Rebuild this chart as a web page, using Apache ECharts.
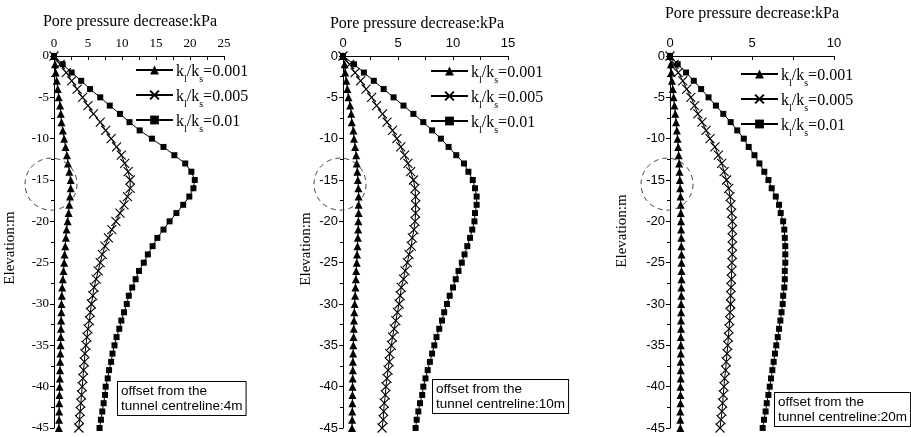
<!DOCTYPE html>
<html><head><meta charset="utf-8">
<script src="https://cdn.jsdelivr.net/npm/echarts@6/dist/echarts.min.js"></script>
<style>html,body{margin:0;padding:0;background:#fff}#c{width:911px;height:437px}</style>
</head><body><div id="c"></div>
<script>
// Elevation (m) of each computed point
var elevation = [0,-1,-2,-3,-4,-5,-6,-7,-8,-9,-10,-11,-12,-13,-14,-15,-16,-17,-18,-19,-20,-21,-22,-23,-24,-25,-26,-27,-28,-29,-30,-31,-32,-33,-34,-35,-36,-37,-38,-39,-40,-41,-42,-43,-44,-45];
var ratioNames = ['0.001','0.005','0.01'];
var offsets = ['4m','10m','20m'];
var xMax = [25, 15, 10];
var yTicks = ['0','-5','-10','-15','-20','-25','-30','-35','-40','-45'];

// Pore pressure decrease (kPa), offset 4 m
var p4_001 = [0,0.15,0.25,0.4,0.55,0.7,0.9,1.0,1.1,1.3,1.5,1.7,1.9,2.05,2.25,2.45,2.45,2.35,2.25,2.15,2.0,1.85,1.75,1.65,1.55,1.5,1.4,1.3,1.2,1.15,1.1,1.08,1.05,1.02,1.0,0.97,0.94,0.91,0.88,0.86,0.83,0.8,0.78,0.76,0.74,0.72];
var p4_005 = [0,0.9,1.8,2.6,3.4,4.2,5.0,5.8,6.8,7.6,8.4,9.2,9.9,10.4,10.9,11.2,11.2,10.8,10.3,9.7,9.1,8.5,8.0,7.5,7.1,6.8,6.5,6.2,5.9,5.7,5.5,5.35,5.2,5.0,4.85,4.7,4.55,4.45,4.35,4.25,4.15,4.05,3.95,3.85,3.75,3.65];
var p4_01  = [0,1.27,2.6,4.0,5.3,6.8,8.2,9.7,11.1,12.6,14.4,16.1,17.7,19.3,20.2,20.7,20.5,19.9,19.0,18.0,17.0,16.1,15.2,14.5,13.8,13.2,12.5,12.0,11.5,11.0,10.7,10.3,9.9,9.6,9.2,8.9,8.6,8.4,8.1,7.9,7.6,7.5,7.3,7.1,6.9,6.7];
// offset 10 m
var p10_001 = [0,0.15,0.2,0.3,0.4,0.5,0.65,0.75,0.8,0.95,1.0,1.1,1.2,1.25,1.3,1.35,1.4,1.42,1.42,1.42,1.4,1.38,1.35,1.32,1.28,1.25,1.2,1.17,1.13,1.1,1.06,1.03,1.0,0.98,0.96,0.94,0.92,0.9,0.89,0.88,0.87,0.86,0.85,0.84,0.83,0.82];
var p10_005 = [0,0.6,1.1,1.6,2.1,2.6,3.05,3.6,4.0,4.5,4.9,5.25,5.6,5.9,6.15,6.4,6.55,6.6,6.6,6.6,6.55,6.45,6.3,6.2,6.0,5.85,5.65,5.5,5.3,5.2,5.1,4.95,4.8,4.65,4.5,4.4,4.25,4.2,4.1,4.0,3.9,3.85,3.75,3.7,3.65,3.55];
var p10_01  = [0,1.0,1.9,2.8,3.7,4.6,5.5,6.4,7.3,8.1,8.9,9.6,10.3,11.0,11.4,11.8,12.0,12.15,12.15,12.0,11.95,11.75,11.55,11.3,11.05,10.8,10.5,10.25,10.0,9.7,9.45,9.2,9.0,8.75,8.5,8.3,8.1,7.9,7.7,7.5,7.3,7.2,7.0,6.85,6.7,6.6];
// offset 20 m
var p20_001 = [0,0.05,0.08,0.12,0.17,0.22,0.27,0.32,0.37,0.42,0.46,0.5,0.53,0.56,0.58,0.6,0.62,0.64,0.65,0.66,0.67,0.68,0.69,0.69,0.7,0.7,0.7,0.7,0.69,0.69,0.68,0.68,0.67,0.67,0.66,0.66,0.66,0.65,0.65,0.65,0.64,0.64,0.64,0.63,0.63,0.63];
var p20_005 = [0,0.25,0.5,0.78,1.02,1.27,1.5,1.7,1.95,2.2,2.44,2.74,2.95,3.15,3.3,3.45,3.58,3.66,3.72,3.76,3.8,3.8,3.8,3.8,3.8,3.78,3.76,3.74,3.72,3.7,3.7,3.66,3.64,3.6,3.56,3.52,3.48,3.43,3.39,3.33,3.29,3.25,3.21,3.17,3.11,3.05];
var p20_01  = [0,0.47,0.98,1.45,1.9,2.35,2.8,3.25,3.7,4.1,4.5,4.8,5.15,5.45,5.75,6.0,6.2,6.45,6.65,6.75,6.9,6.97,7.0,7.03,7.03,7.03,7.0,7.0,6.97,6.9,6.87,6.8,6.73,6.65,6.57,6.48,6.4,6.32,6.24,6.16,6.08,6.0,5.9,5.83,5.73,5.65];

var panels = [[p4_001,p4_005,p4_01],[p10_001,p10_005,p10_01],[p20_001,p20_005,p20_01]];

var SERIF = 'Liberation Serif';
var SANS = 'Liberation Sans';
var tickFonts = [SERIF, SANS, SANS];
var grids = [
  {left:54, top:56, width:170, height:372},
  {left:343, top:56, width:165, height:372},
  {left:670, top:56, width:164, height:372}
];
var symbols = ['triangle', 'path://M0,0L10,10M10,0L0,10', 'rect'];
var symbolSizes = [8, 9, 6];

var chart = echarts.init(document.getElementById('c'), null, {renderer:'canvas'});
var xAxes = [], yAxes = [], series = [], legends = [];
var legendPos = [{left:130, top:59}, {left:425, top:60}, {left:735, top:63}];
for (var i = 0; i < 3; i++) {
  var f = tickFonts[i];
  xAxes.push({type:'value', gridIndex:i, position:'top', min:0, max:xMax[i], interval:5,
    axisLine:{show:true, lineStyle:{color:'#000', width:1}},
    axisTick:{show:true, inside:true, length:4, lineStyle:{color:'#000'}},
    minorTick:{show:true, splitNumber:2, length:4, lineStyle:{color:'#000'}},
    splitLine:{show:false},
    axisLabel:{color:'#000', fontFamily:f, fontSize:13, margin:6}
  });
  yAxes.push({type:'value', gridIndex:i, min:-45, max:0, interval:5,
    axisLine:{show:true, onZero:false, lineStyle:{color:'#000', width:1}},
    axisTick:{show:true, inside:false, length:4, lineStyle:{color:'#000'}},
    minorTick:{show:true, splitNumber:2, length:3, lineStyle:{color:'#000'}},
    splitLine:{show:false},
    axisLabel:{color:'#000', fontFamily:f, fontSize:13, margin:5,
      formatter:function(v){ var s = String(v); return yTicks.indexOf(s) >= 0 ? s : ''; }}
  });
  for (var s = 0; s < 3; s++) {
    var vals = panels[i][s];
    series.push({
      type:'line', name:ratioNames[s], xAxisIndex:i, yAxisIndex:i,
      data: vals.map(function(v, k){ return [v, elevation[k]]; }),
      symbol: symbols[s], symbolSize: symbolSizes[s], showAllSymbol:true,
      lineStyle:{color:'#000', width:1},
      itemStyle:{color:'#000', borderColor:'#000', borderWidth: s === 1 ? 1.1 : 0},
      animation:false
    });
  }
  legends.push({
    data: ratioNames, orient:'vertical', left: legendPos[i].left, top: legendPos[i].top,
    itemWidth:37, itemHeight:11, itemGap:5, selectedMode:false,
    formatter: function(n){ return '{a|k}{b|l}{a|/k}{b|s}{a|=' + n + '}'; },
    textStyle:{ color:'#000', padding:[0,0,0,-2], rich:{
      a:{fontFamily:SERIF, fontSize:16, color:'#000', lineHeight:20, verticalAlign:'bottom'},
      b:{fontFamily:SERIF, fontSize:10, color:'#000', lineHeight:20, verticalAlign:'bottom', padding:[0,0,-4,0]}
    }}
  });
}

var titles = [
  {x:130, y:22}, {x:417, y:24}, {x:752, y:14}
];
var ynames = [{x:10, y:248}, {x:306, y:249}, {x:622, y:231}];
var boxes = [{x:118, y:382}, {x:433, y:380}, {x:775, y:393}];
var graphics = [];
for (var j = 0; j < 3; j++) {
  graphics.push({type:'text', x:titles[j].x, y:titles[j].y, style:{
    text:'Pore pressure decrease:kPa', font:'16px "Liberation Serif"', fill:'#000',
    textAlign:'center', textVerticalAlign:'middle'}});
  graphics.push({type:'text', x:ynames[j].x, y:ynames[j].y, rotation:Math.PI/2, style:{
    text:'Elevation:m', font:'15px "Liberation Serif"', fill:'#000',
    textAlign:'center', textVerticalAlign:'middle'}});
  graphics.push({type:'text', x:boxes[j].x, y:boxes[j].y, z:10, style:{
    text:'offset from the\ntunnel centreline:' + offsets[j], font:'13.5px "Liberation Sans"', fill:'#000',
    lineHeight:15, backgroundColor:'#fff', borderColor:'#000', borderWidth:1, padding:[2,3,1,3]}});
}

chart.setOption({
  animation:false,
  grid: grids,
  xAxis: xAxes,
  yAxis: yAxes,
  legend: legends,
  series: series,
  graphic: graphics
});

// dashed circles marking the tunnel position near each axis
var circles = [];
for (var m = 0; m < 3; m++) {
  var p = chart.convertToPixel({gridIndex:m}, [0, -15.5]);
  circles.push({type:'circle', shape:{cx:p[0]-3, cy:p[1], r:26}, z:5,
    style:{fill:null, stroke:'#444', lineWidth:1, lineDash:[5,4]}});
}
chart.setOption({graphic: graphics.concat(circles)});
</script>
</body></html>
